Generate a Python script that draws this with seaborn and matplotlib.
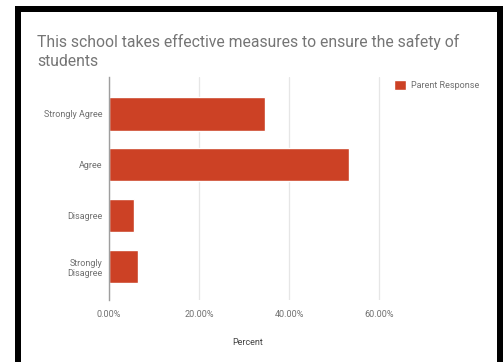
import matplotlib
matplotlib.use("Agg")
import matplotlib.pyplot as plt
from matplotlib.patches import Rectangle
from matplotlib.ticker import FuncFormatter
import seaborn as sns
import pandas as pd

categories = ["Strongly Agree", "Agree", "Disagree", "Strongly\nDisagree"]
values = [34.7, 53.3, 5.6, 6.4]
series_name = "Parent Response"
x_ticks = [0, 20, 40, 60]
title = "This school takes effective measures to ensure the safety of\nstudents"
x_label = "Percent"

df = pd.DataFrame({"Category": categories, "Percent": values, "Series": series_name})

sns.set_theme(style="white")
plt.rcParams["font.family"] = ["Roboto", "DejaVu Sans"]

W, H = 503, 362
fig = plt.figure(figsize=(W / 100, H / 100), dpi=100)
fig.patch.set_facecolor("white")

def fx(px):
    return px / W

def fy(py):
    return 1 - py / H

ax = fig.add_axes([fx(109), fy(300), fx(386) - fx(109), fy(77) - fy(300)])

sns.barplot(data=df, x="Percent", y="Category", hue="Series", orient="h",
            palette=["#CC4125"], width=0.65, ax=ax, legend=True, saturation=1)

ax.set_xlim(0, 61.5)
ax.set_ylim(3.65, -0.725)
ax.set_xticks(x_ticks)
ax.xaxis.set_major_formatter(FuncFormatter(lambda v, p: f"{v:.2f}%"))
ax.grid(axis="x", color="#e6e6e6", linewidth=0.9)
ax.set_axisbelow(True)
for s in ["top", "right", "bottom"]:
    ax.spines[s].set_visible(False)
ax.spines["left"].set_color("#9e9e9e")
ax.spines["left"].set_linewidth(1)
ax.tick_params(axis="both", length=0, labelsize=6.5, labelcolor="#707070")
ax.tick_params(axis="x", pad=7)
ax.tick_params(axis="y", pad=5)
for lbl in ax.get_yticklabels():
    lbl.set_multialignment("right")
ax.set_ylabel("")
ax.set_xlabel(x_label, fontsize=6.5, color="#444444", labelpad=14)

leg = ax.legend(loc="upper left", bbox_to_anchor=(fx(394), fy(80)),
                bbox_transform=fig.transFigure, frameon=False, fontsize=6.5,
                handlelength=1.3, handleheight=1.3, handletextpad=0.6,
                borderaxespad=0, borderpad=0)
for t in leg.get_texts():
    t.set_color("#707070")

fig.text(fx(37), fy(51.5), title, fontsize=11.3, color="#757575",
         ha="left", va="center", linespacing=1.4)

# black frame
black = "#000000"
fig.add_artist(Rectangle((fx(15), 0), fx(21) - fx(15), fy(6), transform=fig.transFigure,
                         facecolor=black, edgecolor="none"))
fig.add_artist(Rectangle((fx(15), fy(12)), 1 - fx(15), fy(6) - fy(12), transform=fig.transFigure,
                         facecolor=black, edgecolor="none"))
fig.add_artist(Rectangle((fx(497), 0), 1 - fx(497), fy(6), transform=fig.transFigure,
                         facecolor=black, edgecolor="none"))

fig.savefig("out.png", dpi=100, facecolor="white")
